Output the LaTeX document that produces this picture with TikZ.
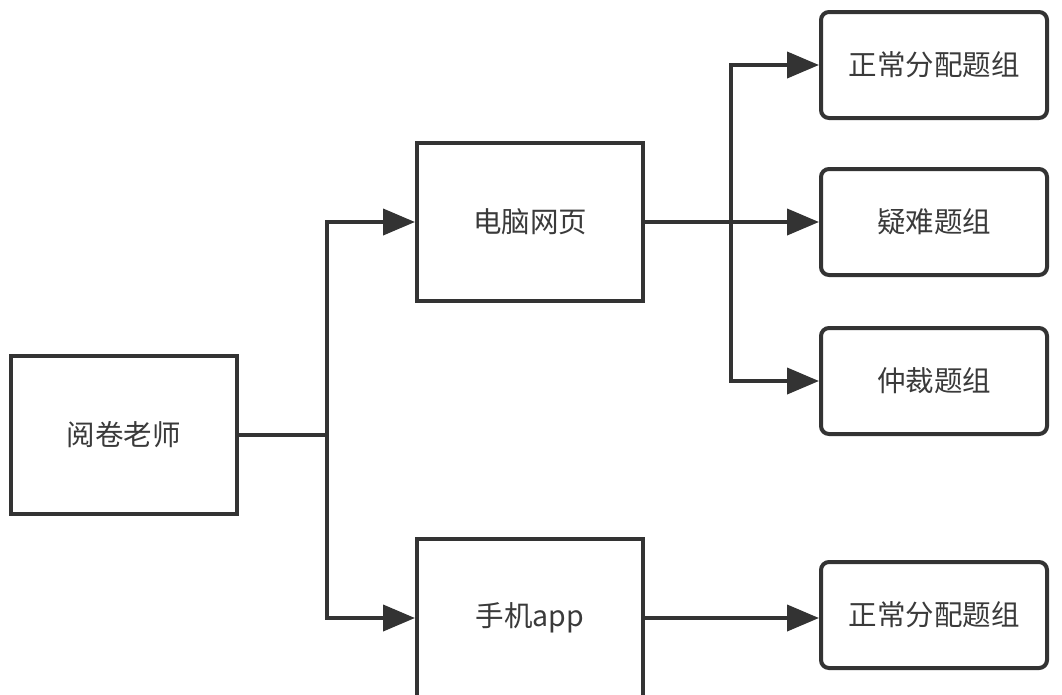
\documentclass[tikz,border=0pt]{standalone}
\usepackage{fontspec}
\newfontfamily\cjk{Noto Sans CJK SC}
\usetikzlibrary{arrows.meta}
\definecolor{ink}{HTML}{333333}
\definecolor{txt}{HTML}{3A3A3A}
\begin{document}
\begin{tikzpicture}[x=1pt,y=-1pt,
  box/.style={draw=ink, line width=4pt, fill=white, minimum width=226pt, minimum height=158pt, inner sep=0pt, font=\cjk\fontsize{28.5}{34}\selectfont, text=txt},
  rbox/.style={box, minimum height=106pt, rounded corners=8pt},
  conn/.style={draw=ink, line width=4pt},
  arr/.style={conn, -{Triangle[length=32pt,width=26pt]}}]
\useasboundingbox (0,0) rectangle (1062,694);
\node[box] (T) at (123.5,434.5) {阅卷老师};
\node[box] (W) at (530,222) {电脑网页};
\node[box] (M) at (530,618) {手机app};
\node[rbox] (R1) at (934,65) {正常分配题组};
\node[rbox] (R2) at (934,222) {疑难题组};
\node[rbox] (R3) at (934,381) {仲裁题组};
\node[rbox] (R4) at (934,615) {正常分配题组};
\coordinate (j1) at (327,434.5);
\coordinate (j2) at (731,222);
\draw[conn] (T.east) -- (j1);
\draw[arr] (j1) |- (W);
\draw[arr] (j1) |- (M);
\draw[arr] (W.east) -- (R2.west);
\draw[arr] (j2) |- (R1);
\draw[arr] (j2) |- (R3);
\draw[arr] (M.east) -- (M.east -| R4.west);
\end{tikzpicture}
\end{document}
